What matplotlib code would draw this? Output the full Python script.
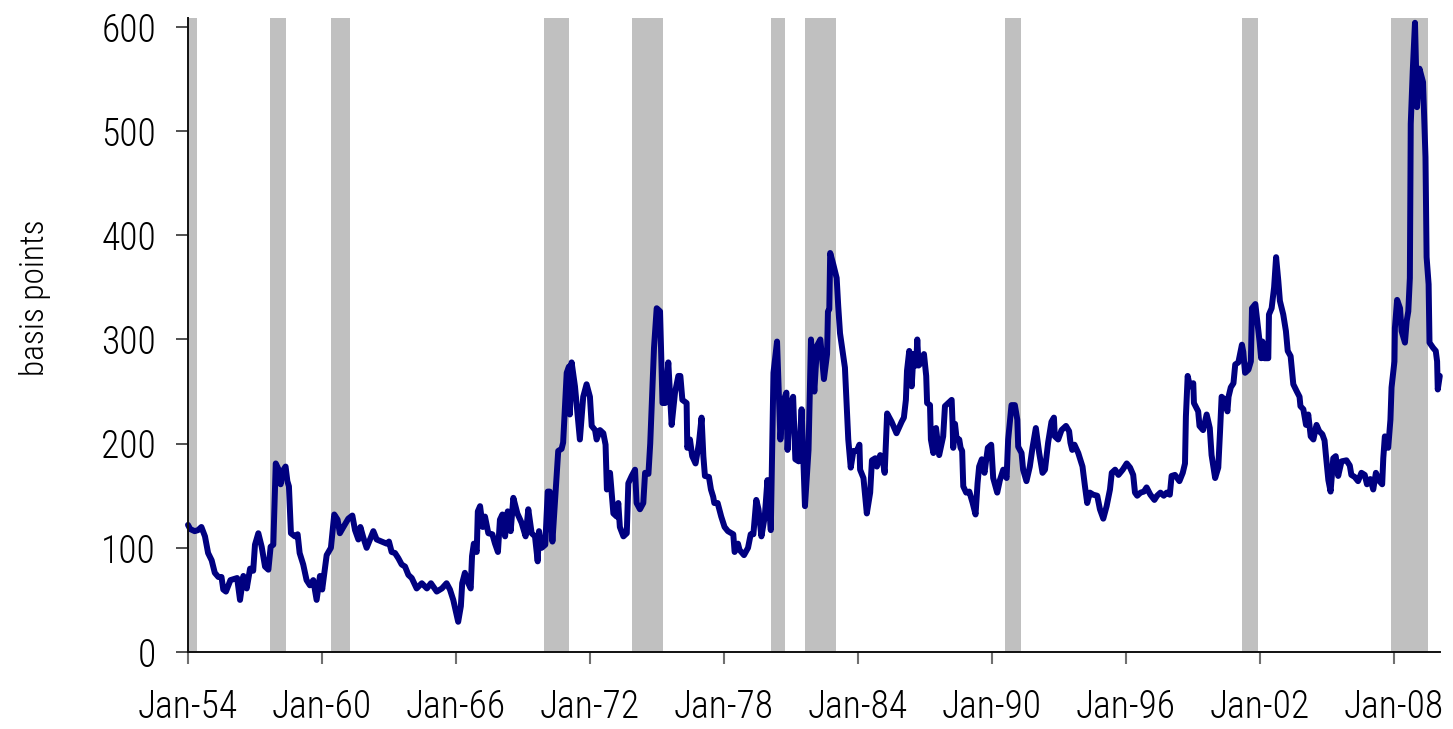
import matplotlib
matplotlib.use("Agg")
import matplotlib.pyplot as plt
from matplotlib import font_manager

# ---------------- data ----------------
years = [
    1954.00, 1954.10, 1954.30, 1954.45, 1954.60, 1954.76, 1954.90, 1955.06, 1955.20, 1955.36,
    1955.50, 1955.58, 1955.70, 1955.90, 1956.05, 1956.20, 1956.33, 1956.48, 1956.63, 1956.78,
    1956.92, 1957.00, 1957.15, 1957.30, 1957.45, 1957.60, 1957.70, 1957.82, 1957.93, 1958.04,
    1958.15, 1958.22, 1958.37, 1958.45, 1958.52, 1958.61, 1958.79, 1958.91, 1959.00, 1959.16,
    1959.31, 1959.46, 1959.61, 1959.76, 1959.91, 1960.01, 1960.21, 1960.40, 1960.55, 1960.70,
    1960.80, 1960.96, 1961.18, 1961.36, 1961.48, 1961.63, 1961.72, 1961.85, 1962.00, 1962.15,
    1962.30, 1962.45, 1962.67, 1962.90, 1963.00, 1963.12, 1963.27, 1963.42, 1963.57, 1963.72,
    1963.87, 1964.02, 1964.24, 1964.47, 1964.70, 1964.88, 1965.14, 1965.37, 1965.58, 1965.73,
    1965.88, 1966.10, 1966.22, 1966.28, 1966.40, 1966.55, 1966.66, 1966.72, 1966.80, 1966.93,
    1966.98, 1967.08, 1967.20, 1967.30, 1967.45, 1967.63, 1967.75, 1967.88, 1967.97, 1968.08,
    1968.20, 1968.32, 1968.45, 1968.57, 1968.75, 1968.94, 1969.12, 1969.24, 1969.39, 1969.54,
    1969.66, 1969.72, 1969.84, 1970.00, 1970.11, 1970.20, 1970.32, 1970.45, 1970.58, 1970.73,
    1970.80, 1970.96, 1971.06, 1971.10, 1971.18, 1971.33, 1971.55, 1971.70, 1971.85, 1972.00,
    1972.08, 1972.23, 1972.30, 1972.45, 1972.60, 1972.70, 1972.76, 1972.90, 1973.05, 1973.20,
    1973.27, 1973.34, 1973.50, 1973.65, 1973.72, 1973.87, 1974.02, 1974.09, 1974.24, 1974.39,
    1974.47, 1974.62, 1974.70, 1974.80, 1974.87, 1974.99, 1975.14, 1975.25, 1975.37, 1975.51,
    1975.66, 1975.81, 1975.96, 1976.05, 1976.14, 1976.33, 1976.36, 1976.48, 1976.58, 1976.73,
    1976.88, 1977.00, 1977.08, 1977.15, 1977.33, 1977.42, 1977.52, 1977.57, 1977.72, 1977.88,
    1978.03, 1978.18, 1978.42, 1978.48, 1978.63, 1978.70, 1978.90, 1979.08, 1979.20, 1979.32,
    1979.45, 1979.55, 1979.68, 1979.83, 1979.95, 1980.10, 1980.22, 1980.38, 1980.53, 1980.65,
    1980.80, 1980.85, 1980.95, 1981.10, 1981.20, 1981.35, 1981.48, 1981.63, 1981.79, 1981.90,
    1982.05, 1982.17, 1982.32, 1982.48, 1982.62, 1982.66, 1982.72, 1982.76, 1982.90, 1983.05,
    1983.12, 1983.20, 1983.42, 1983.57, 1983.68, 1983.80, 1983.95, 1984.07, 1984.10, 1984.25,
    1984.40, 1984.55, 1984.63, 1984.78, 1984.85, 1985.00, 1985.12, 1985.20, 1985.26, 1985.31,
    1985.51, 1985.73, 1985.96, 1986.06, 1986.15, 1986.20, 1986.30, 1986.41, 1986.49, 1986.61,
    1986.66, 1986.72, 1986.85, 1986.96, 1987.06, 1987.10, 1987.23, 1987.27, 1987.38, 1987.50,
    1987.64, 1987.82, 1987.90, 1988.20, 1988.24, 1988.27, 1988.35, 1988.42, 1988.54, 1988.60,
    1988.67, 1988.72, 1988.85, 1988.99, 1989.14, 1989.27, 1989.36, 1989.43, 1989.55, 1989.67,
    1989.82, 1989.97, 1990.06, 1990.24, 1990.36, 1990.51, 1990.66, 1990.73, 1990.88, 1991.03,
    1991.14, 1991.18, 1991.33, 1991.40, 1991.55, 1991.70, 1991.82, 1991.97, 1992.12, 1992.27,
    1992.38, 1992.52, 1992.67, 1992.78, 1992.82, 1992.97, 1993.12, 1993.32, 1993.46, 1993.52,
    1993.60, 1993.70, 1993.87, 1994.06, 1994.17, 1994.27, 1994.39, 1994.54, 1994.72, 1994.84,
    1994.99, 1995.14, 1995.29, 1995.37, 1995.52, 1995.67, 1995.86, 1996.04, 1996.19, 1996.33,
    1996.41, 1996.51, 1996.66, 1996.81, 1996.93, 1997.10, 1997.28, 1997.40, 1997.55, 1997.70,
    1997.83, 1997.97, 1998.05, 1998.20, 1998.40, 1998.55, 1998.65, 1998.69, 1998.77, 1998.87,
    1999.02, 1999.05, 1999.24, 1999.30, 1999.46, 1999.62, 1999.76, 1999.84, 2000.00, 2000.14,
    2000.22, 2000.29, 2000.44, 2000.55, 2000.60, 2000.70, 2000.82, 2000.90, 2001.04, 2001.20,
    2001.26, 2001.34, 2001.49, 2001.60, 2001.65, 2001.80, 2001.87, 2001.99, 2002.06, 2002.12,
    2002.20, 2002.38, 2002.41, 2002.53, 2002.64, 2002.73, 2002.83, 2002.90, 2003.05, 2003.17,
    2003.25, 2003.38, 2003.50, 2003.66, 2003.78, 2003.82, 2003.95, 2004.07, 2004.17, 2004.28,
    2004.40, 2004.54, 2004.66, 2004.80, 2004.90, 2004.96, 2005.07, 2005.17, 2005.29, 2005.40,
    2005.51, 2005.66, 2005.88, 2006.03, 2006.10, 2006.25, 2006.40, 2006.55, 2006.70, 2006.80,
    2006.95, 2007.08, 2007.20, 2007.36, 2007.48, 2007.53, 2007.60, 2007.75, 2007.85, 2007.90,
    2008.03, 2008.05, 2008.15, 2008.28, 2008.35, 2008.50, 2008.58, 2008.65, 2008.72, 2008.76,
    2008.85, 2008.95, 2009.04, 2009.15, 2009.31, 2009.42, 2009.47, 2009.56, 2009.60, 2009.76,
    2009.88, 2009.94, 2009.97, 2010.06,
]
spread_bp = [
    122, 118, 116, 117, 120, 111, 95, 88, 76, 72,
    72, 60, 58, 69, 70, 71, 50, 73, 61, 80,
    78, 103, 114, 101, 82, 79, 101, 103, 181, 176,
    161, 173, 178, 164, 159, 114, 111, 113, 95, 84,
    69, 64, 69, 50, 73, 60, 93, 100, 132, 127,
    114, 120, 128, 131, 117, 108, 120, 110, 100, 108,
    116, 108, 106, 104, 106, 96, 95, 90, 84, 82,
    74, 71, 61, 66, 61, 66, 58, 61, 66, 60,
    50, 29, 44, 66, 76, 66, 61, 92, 104, 96,
    135, 140, 120, 130, 114, 113, 104, 96, 127, 132,
    111, 135, 116, 148, 133, 124, 111, 137, 114, 111,
    87, 116, 100, 103, 154, 154, 106, 150, 193, 195,
    201, 268, 274, 228, 278, 255, 204, 245, 257, 245,
    217, 213, 204, 213, 210, 199, 156, 172, 133, 130,
    143, 120, 111, 114, 162, 169, 175, 143, 137, 143,
    172, 171, 200, 255, 292, 330, 327, 239, 239, 278,
    218, 249, 265, 265, 242, 239, 196, 204, 188, 181,
    200, 225, 188, 169, 168, 156, 149, 143, 143, 130,
    120, 116, 113, 96, 104, 98, 93, 100, 113, 113,
    146, 137, 111, 130, 165, 117, 268, 298, 204, 240,
    249, 194, 235, 245, 185, 183, 233, 140, 194, 300,
    250, 294, 300, 262, 286, 327, 329, 383, 372, 359,
    332, 306, 273, 204, 177, 193, 193, 199, 175, 167,
    133, 153, 184, 186, 178, 189, 183, 172, 204, 229,
    221, 210, 221, 225, 242, 270, 289, 255, 286, 275,
    300, 275, 278, 286, 265, 239, 237, 204, 191, 215,
    189, 207, 236, 242, 220, 196, 219, 205, 204, 196,
    193, 159, 153, 154, 143, 132, 162, 178, 185, 172,
    196, 199, 167, 153, 165, 175, 167, 204, 237, 237,
    223, 197, 191, 175, 164, 178, 196, 215, 191, 172,
    175, 201, 221, 225, 207, 204, 213, 217, 212, 201,
    194, 199, 191, 178, 159, 143, 153, 151, 150, 137,
    128, 140, 156, 172, 175, 170, 175, 181, 177, 170,
    153, 150, 153, 154, 158, 151, 146, 150, 153, 150,
    153, 151, 169, 170, 164, 172, 181, 226, 265, 255,
    258, 239, 231, 217, 213, 228, 215, 189, 167, 177,
    212, 245, 242, 231, 245, 254, 258, 276, 278, 295,
    288, 268, 271, 279, 330, 334, 321, 298, 282, 298,
    282, 282, 324, 330, 350, 379, 356, 337, 324, 308,
    289, 284, 257, 250, 245, 236, 233, 218, 228, 207,
    204, 218, 212, 209, 203, 189, 165, 154, 186, 188,
    169, 183, 184, 179, 170, 168, 164, 172, 170, 161,
    166, 156, 172, 164, 161, 186, 207, 196, 223, 254,
    279, 311, 338, 330, 308, 297, 318, 327, 359, 507,
    558, 604, 523, 560, 547, 475, 379, 353, 297, 292,
    289, 279, 252, 265,
]

# NBER recession periods (decimal years, as shaded in the chart)
recession_start = [1953.60, 1957.67, 1960.40, 1969.94, 1973.88, 1980.11, 1981.63, 1990.59, 2001.20, 2007.87]
recession_end   = [1954.40, 1958.39, 1961.25, 1971.06, 1975.27, 1980.73, 1983.02, 1991.30, 2001.92, 2009.53]

tick_years  = [1954, 1960, 1966, 1972, 1978, 1984, 1990, 1996, 2002, 2008]
tick_labels = ["Jan-54", "Jan-60", "Jan-66", "Jan-72", "Jan-78",
               "Jan-84", "Jan-90", "Jan-96", "Jan-02", "Jan-08"]
y_ticks = [0, 100, 200, 300, 400, 500, 600]

# ---------------- font: prefer a condensed sans if one is installed ----------------
installed = {f.name for f in font_manager.fontManager.ttflist}
preferred = ["Liberation Sans Narrow", "Roboto Condensed", "Open Sans Condensed",
             "DejaVu Sans Condensed", "Liberation Sans", "DejaVu Sans"]
families = [f for f in preferred if f in installed] or ["DejaVu Sans"]
plt.rcParams["font.family"] = families
condensed_available = families[0] != "Liberation Sans"
stretch = "condensed"
weight = "light"

# ---------------- figure ----------------
W, H = 1453, 729
fig = plt.figure(figsize=(W / 100, H / 100), dpi=100)
ax = fig.add_axes([188 / W, (H - 652) / H, (1440 - 188) / W, (652 - 18) / H])

for s, e in zip(recession_start, recession_end):
    ax.axvspan(s, e, color="#C0C0C0", lw=0, zorder=1)

ax.plot(years, spread_bp, color="#000080", lw=4.3,
        solid_joinstyle="round", solid_capstyle="round", zorder=3, clip_on=False)

ax.set_xlim(1954.0, 2010.07)
ax.set_ylim(0, 608.6)

ax.set_xticks(tick_years)
ax.set_xticklabels(tick_labels)
ax.set_yticks(y_ticks)

for side in ("top", "right"):
    ax.spines[side].set_visible(False)
for side in ("left", "bottom"):
    ax.spines[side].set_linewidth(1.4)
    ax.spines[side].set_color("#101010")
    ax.spines[side].set_zorder(4)

lab_size = 27 if condensed_available else 24
ax.tick_params(axis="y", length=9, width=1.1, pad=14, labelsize=lab_size,
               colors="#202020", labelcolor="black")
ax.tick_params(axis="x", length=8.6, width=1.5, pad=18, labelsize=lab_size,
               color="#707070", labelcolor="black")
for t in ax.get_xticklabels() + ax.get_yticklabels():
    t.set_fontstretch(stretch)
    t.set_fontweight(weight)

fig.text(35 / W, 1 - 298 / H, "basis points", rotation=90,
         ha="center", va="center", fontsize=lab_size - 3,
         fontstretch=stretch, fontweight=weight)

fig.savefig("out.png", dpi=100)
